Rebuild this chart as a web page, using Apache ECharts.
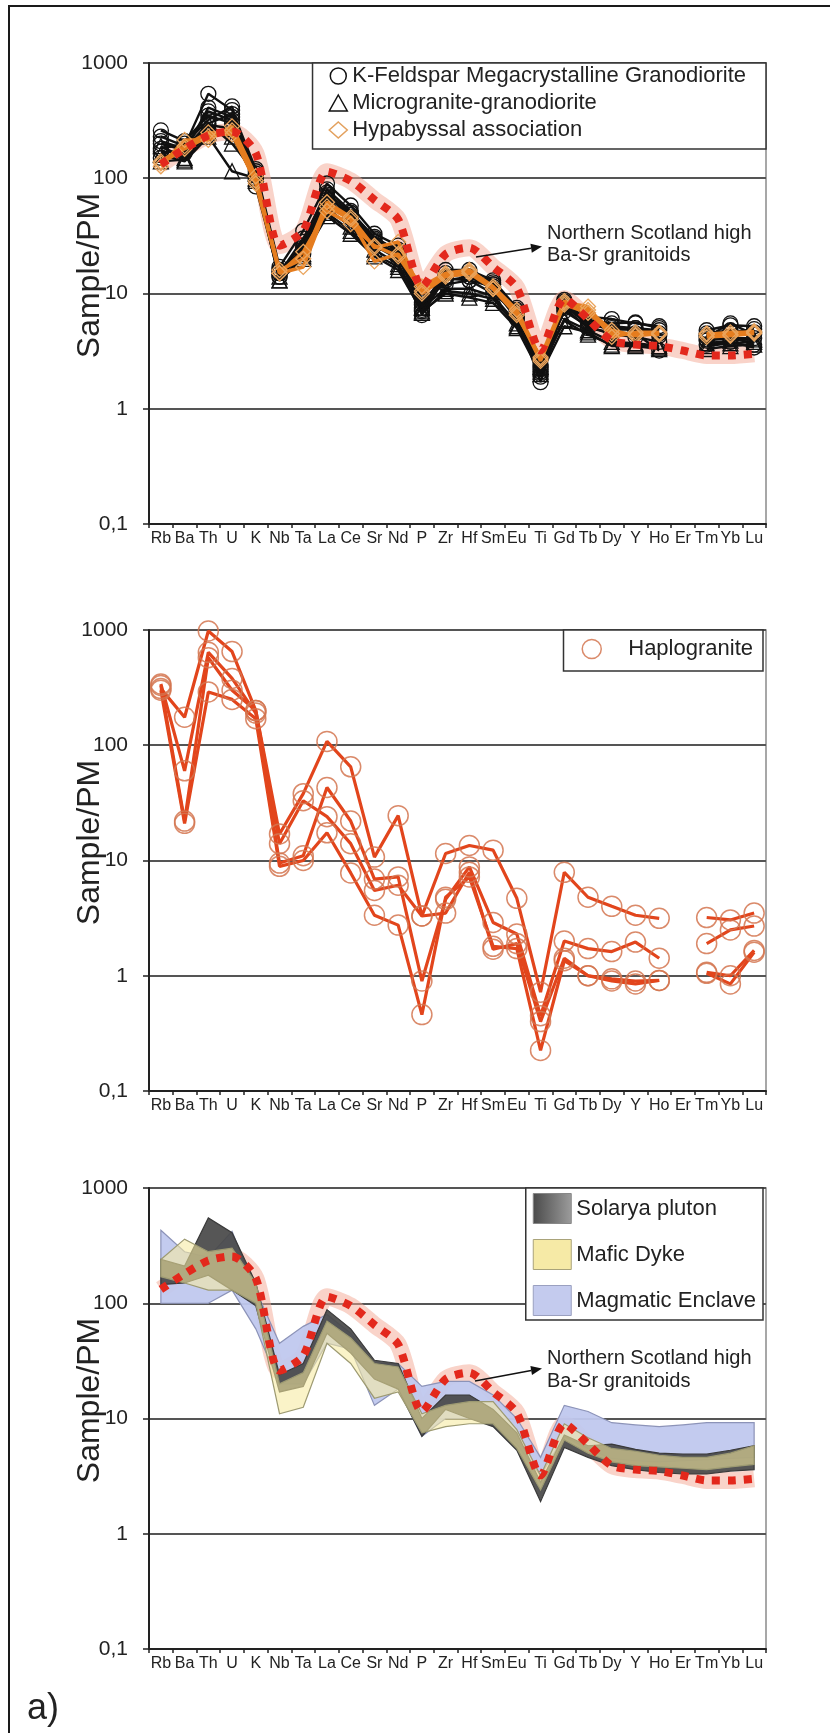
<!DOCTYPE html>
<html>
<head>
<meta charset="utf-8">
<script src="https://cdn.jsdelivr.net/npm/echarts@6/dist/echarts.min.js"></script>
<style>
  html, body { margin: 0; padding: 0; background: #fff; }
  #chart { width: 830px; height: 1733px; }
</style>
</head>
<body>
<div id="chart"></div>
<script>
// Primitive-mantle normalised multi-element patterns (Sample/PM)
const elements = ['Rb','Ba','Th','U','K','Nb','Ta','La','Ce','Sr','Nd','P','Zr','Hf','Sm','Eu','Ti','Gd','Tb','Dy','Y','Ho','Er','Tm','Yb','Lu'];
const yTickLabels = ['0,1', '1', '10', '100', '1000'];   // exponents -1 .. 3

// Reference pattern: Northern Scotland high Ba-Sr granitoids
const northernScotland = [132,180,235,255,165,26,35,114,95,65,44,11.5,22,25,17,11.2,3.2,9.0,6.0,3.9,3.6,3.5,3.2,2.9,2.9,3.0];

// Panel 1
const kFeldsparSamples = [
  [230,190,540,390,120,17,35,90,58,33,26,7.5,16,16,13,7.5,2.0,8.8,6.3,6.0,5.5,5.2,null,4.8,5.3,5.2],
  [200,175,380,320,105,15,28,80,52,30,24,6.5,14,15,12,6.5,1.7,8.0,5.5,5.2,5.0,4.8,null,4.3,4.6,4.9],
  [180,200,320,420,85,14,25,70,48,28,22,8.0,13,14,11,6.0,2.2,7.5,5.0,4.6,4.5,3.2,null,4.0,4.2,3.6],
  [150,165,290,270,95,16,22,65,45,26,20,9.0,12,13,10,6.8,2.4,7.0,5.2,4.4,4.2,3.8,null,3.6,3.8,3.4],
  [260,210,350,300,110,15,30,75,50,31,23,7.0,15,14,12,7.0,1.9,8.5,5.8,5.5,5.6,5.0,null,4.2,5.5,4.4],
  [210,180,300,360,100,14,26,72,46,27,21,7.2,13.5,13,11.5,6.2,2.1,7.8,5.4,5.0,4.8,4.3,null,3.9,4.1,4.1],
  [170,170,410,340,115,16,24,68,50,29,22,8.4,14,15,12.5,7.2,2.3,8.2,5.6,4.8,5.0,4.5,null,4.5,4.8,4.6]
];
const microgranodioriteSamples = [
  [160,140,230,115,100,13,21,47,33,21,16,7.0,10,9.2,8.3,5.0,2.0,5.2,4.6,3.5,3.5,3.3,null,3.7,3.9,4.0],
  [190,150,300,200,110,14,22,55,38,24,18,7.5,11,11,9.5,5.5,2.1,6.0,4.8,3.8,3.7,3.5,null,3.5,3.7,3.8],
  [140,145,250,230,95,13,20,50,35,22,17,6.8,10.5,10,9.0,5.2,2.3,5.8,4.4,3.6,3.6,3.4,null,3.3,3.5,3.6]
];
const hypabyssalSamples = [
  [127,215,215,282,104,15,17,57,44,19,22,11.5,15,16,11.5,7.2,2.7,8.3,7.7,4.2,4.6,4.6,null,4.4,4.6,4.6],
  [140,190,250,240,95,16,20,62,46,25,28,10,14,15,11,6.8,2.6,8.0,6.8,4.5,4.4,4.4,null,4.2,4.3,4.5],
  [135,180,230,260,90,15,23,52,40,26,21,10.5,14.5,15.5,11,6.5,2.8,8.6,7.2,4.8,4.3,4.5,null,4.5,4.4,4.7]
];

// Panel 2
const haplograniteSamples = [
  [310,175,980,650,200,17,38,108,65,10.7,24.5,3.3,11.5,13.5,12.3,4.7,0.72,7.9,4.8,4.0,3.35,3.15,null,3.2,3.05,3.5],
  [340,60,640,380,190,9.5,11,43,22,6.9,7.2,0.9,4.6,8.8,2.9,2.3,0.45,2.0,1.72,1.62,1.96,1.42,null,1.9,2.5,2.7],
  [330,22,575,300,200,14,33,24,14,5.5,6.1,3.3,3.5,7.9,1.7,1.9,0.40,1.42,1.0,0.94,0.9,0.91,null,1.07,1.0,1.66],
  [300,21,290,250,170,8.9,10,17.4,7.8,3.35,2.75,0.46,4.8,7.2,1.8,1.72,0.225,1.35,1.0,0.9,0.85,0.91,null,1.05,0.85,1.6]
];

// Panel 3: compositional ranges (lower / upper envelopes)
const solaryaLow   = [145,150,175,130,95,17,19,55,37,22,18,7,12,10,8.5,5.3,1.9,5.6,4.6,3.9,3.6,3.4,3.3,3.3,3.5,3.6];
const solaryaHigh  = [240,210,550,410,150,24,30,88,60,32,30,10,16,16,12,7.5,2.8,7.2,5.8,6.0,5.4,5.0,4.9,4.9,5.3,5.8];
const dykeLow      = [170,150,130,130,100,11,12.5,45,30,15,17,7.5,8.5,9,9,5.5,2.4,6.5,5,4.2,3.9,3.8,3.7,3.6,3.8,4.0];
const dykeHigh     = [240,360,280,300,150,20,25,70,50,30,28,11,13,14,14,8,3.2,9,6.8,5.5,5.2,4.8,4.6,4.6,5.0,5.8];
const enclaveLow   = [100,100,100,130,60,20,20,45,40,13,18,7,10,10,9,6,3.2,7,5.5,4.5,4.3,4.2,4.3,4.4,4.5,4.6];
const enclaveHigh  = [430,280,250,420,130,45,63,80,55,30,30,19,21,21,16,10,4.6,13,11.5,9.2,8.8,8.5,8.8,9.2,9.2,9.2];

const FONT = "'Liberation Sans', Arial, Helvetica, sans-serif";
const TEXT = '#222';
const panelTops = [63, 630, 1188];
const PLOT_LEFT = 149, PLOT_W = 617, PLOT_H = 461;

const chart = echarts.init(document.getElementById('chart'), null, { renderer: 'canvas' });

const grids = panelTops.map(t => ({
  left: PLOT_LEFT, top: t, width: PLOT_W, height: PLOT_H,
  show: true, borderColor: '#8a8a8a', borderWidth: 1.5, backgroundColor: 'transparent'
}));

const xAxes = panelTops.map((t, i) => ({
  type: 'category', gridIndex: i, data: elements, boundaryGap: true,
  axisLine: { lineStyle: { color: TEXT, width: 2 } },
  axisTick: { show: true, interval: 0, length: 4, lineStyle: { color: TEXT, width: 1.5 } },
  axisLabel: { interval: 0, fontSize: 16, color: TEXT, fontFamily: FONT, margin: 7, hideOverlap: false },
  splitLine: { show: false }
}));

const yAxes = panelTops.map((t, i) => ({
  type: 'log', logBase: 10, gridIndex: i, min: 0.1, max: 1000, splitNumber: 4,
  axisLine: { show: true, lineStyle: { color: TEXT, width: 2 } },
  axisTick: { show: true, length: 6, lineStyle: { color: TEXT, width: 1.5 } },
  axisLabel: {
    fontSize: 21, color: TEXT, fontFamily: FONT, margin: 21,
    formatter: v => yTickLabels[Math.round(Math.log10(v)) + 1]
  },
  splitLine: { show: true, lineStyle: { color: '#555', width: 1.8 } },
  minorTick: { show: false }, minorSplitLine: { show: false }
}));

function sampleLine(name, data, axis, opts) {
  return Object.assign({
    type: 'line', name, data, xAxisIndex: axis, yAxisIndex: axis,
    connectNulls: false, silent: true, animation: false
  }, opts);
}

function referenceLines(axis) {
  return [
    sampleLine('Northern Scotland halo', northernScotland, axis, {
      symbol: 'none', smooth: 0.25, z: 1,
      lineStyle: { color: 'rgba(244,168,148,0.5)', width: 17 }
    }),
    sampleLine('Northern Scotland high Ba-Sr granitoids', northernScotland, axis, {
      symbol: 'none', smooth: 0.25, z: 6,
      lineStyle: { color: '#e3281c', width: 8, type: [8, 8], cap: 'butt' }
    })
  ];
}

function band(name, lo, hi, axis, fill, stroke, z) {
  return {
    type: 'custom', name, xAxisIndex: axis, yAxisIndex: axis, z, silent: true,
    itemStyle: { color: fill },
    data: elements.map((e, i) => [i, hi[i]]),
    renderItem: (params, api) => {
      if (params.dataIndex !== 0) return null;
      const upper = hi.map((v, i) => api.coord([i, v]));
      const lower = lo.map((v, i) => api.coord([i, v])).reverse();
      return {
        type: 'polygon',
        shape: { points: upper.concat(lower) },
        style: { fill, stroke, lineWidth: 1.2 }
      };
    }
  };
}

const series = [];

// Panel 1
series.push(referenceLines(0)[0]);
kFeldsparSamples.forEach(d => series.push(sampleLine('K-Feldspar Megacrystalline Granodiorite', d, 0, {
  symbol: 'circle', symbolSize: 15, z: 3,
  lineStyle: { color: '#111', width: 2.4 },
  itemStyle: { color: 'rgba(0,0,0,0)', borderColor: '#111', borderWidth: 1.3 }
})));
microgranodioriteSamples.forEach(d => series.push(sampleLine('Microgranite-granodiorite', d, 0, {
  symbol: 'triangle', symbolSize: 15, z: 3,
  lineStyle: { color: '#111', width: 2.4 },
  itemStyle: { color: 'rgba(0,0,0,0)', borderColor: '#111', borderWidth: 1.3 }
})));
hypabyssalSamples.forEach(d => series.push(sampleLine('Hypabyssal association', d, 0, {
  symbol: 'diamond', symbolSize: 15, z: 4,
  lineStyle: { color: '#e57d1f', width: 3.5 },
  itemStyle: { color: 'rgba(0,0,0,0)', borderColor: '#eaa45c', borderWidth: 1.3 }
})));
series.push(referenceLines(0)[1]);

// Panel 2
haplograniteSamples.forEach(d => series.push(sampleLine('Haplogranite', d, 1, {
  symbol: 'circle', symbolSize: 20, z: 3,
  lineStyle: { color: '#e2451c', width: 3.2 },
  itemStyle: { color: 'rgba(0,0,0,0)', borderColor: 'rgba(212,118,80,0.85)', borderWidth: 1.5 }
})));

// Panel 3
const solaryaFill = new echarts.graphic.LinearGradient(0, 0, 1, 0, [
  { offset: 0, color: '#4a4a4a' }, { offset: 1, color: '#9c9c9c' }
]);
series.push(band('Magmatic Enclave', enclaveLow, enclaveHigh, 2, 'rgba(192,200,238,0.95)', '#8c93b8', 2));
series.push(band('Solarya pluton', solaryaLow, solaryaHigh, 2, 'rgba(72,72,72,0.92)', '#3a3a3a', 3));
series.push(band('Mafic Dyke', dykeLow, dykeHigh, 2, 'rgba(246,234,160,0.58)', '#9d9a72', 4));
referenceLines(2).forEach(s => series.push(s));

// Annotation arrow (line + filled head)
function arrow(x1, y1, x2, y2) {
  const dx = x2 - x1, dy = y2 - y1, len = Math.hypot(dx, dy);
  const ux = dx / len, uy = dy / len, hl = 11, hw = 4.5;
  const bx = x2 - ux * hl, by = y2 - uy * hl;
  return [
    { type: 'line', z: 20, shape: { x1, y1, x2: bx, y2: by }, style: { stroke: '#111', lineWidth: 1.5 } },
    { type: 'polygon', z: 20, shape: { points: [[x2, y2], [bx - uy * hw, by + ux * hw], [bx + uy * hw, by - ux * hw]] },
      style: { fill: '#111' } }
  ];
}

const graphic = [
  { type: 'polyline', z: 20, shape: { points: [[9, 1733], [9, 6], [830, 6]] }, style: { stroke: '#1a1a1a', lineWidth: 2, fill: null } },
  { type: 'text', z: 20, x: 27, y: 1709, style: { text: 'a)', fontSize: 36, fontFamily: FONT, fill: TEXT, align: 'left', verticalAlign: 'middle' } },
  { type: 'text', z: 20, x: 547, y: 222, style: { text: 'Northern Scotland high\nBa-Sr granitoids', fontSize: 20, lineHeight: 22, fontFamily: FONT, fill: TEXT, align: 'left', verticalAlign: 'top' } },
  { type: 'text', z: 20, x: 547, y: 1347, style: { text: 'Northern Scotland high\nBa-Sr granitoids', fontSize: 20, lineHeight: 23, fontFamily: FONT, fill: TEXT, align: 'left', verticalAlign: 'top' } }
].concat(arrow(476, 257, 542, 246.5), arrow(475, 1381, 542, 1368.5));

panelTops.forEach(t => graphic.push({
  type: 'text', z: 20, x: 90, y: t + PLOT_H / 2 - 18, rotation: Math.PI / 2,
  style: { text: 'Sample/PM', fontSize: 32, fontFamily: FONT, fill: TEXT, align: 'center', verticalAlign: 'middle' }
}));

const legendBase = {
  orient: 'vertical', selectedMode: false, backgroundColor: '#fff',
  borderColor: '#333', borderWidth: 1.5, borderRadius: 0
};

const legends = [
  Object.assign({}, legendBase, {
    right: 64, top: 63, padding: [2, 20, 8, 16], itemGap: 5, itemWidth: 18, itemHeight: 16,
    textStyle: { fontSize: 22, lineHeight: 22, color: TEXT, fontFamily: FONT },
    data: [
      { name: 'K-Feldspar Megacrystalline Granodiorite', icon: 'circle', itemStyle: { color: 'rgba(0,0,0,0)', borderColor: '#111', borderWidth: 1.5 } },
      { name: 'Microgranite-granodiorite', icon: 'triangle', itemStyle: { color: 'rgba(0,0,0,0)', borderColor: '#111', borderWidth: 1.5 } },
      { name: 'Hypabyssal association', icon: 'diamond', itemStyle: { color: 'rgba(0,0,0,0)', borderColor: '#e3a15e', borderWidth: 1.5 } }
    ]
  }),
  Object.assign({}, legendBase, {
    right: 67, top: 630, padding: [8, 10, 11, 18], itemWidth: 19, itemHeight: 19,
    textStyle: { fontSize: 22, lineHeight: 22, color: TEXT, fontFamily: FONT, padding: [0, 0, 0, 22] },
    data: [
      { name: 'Haplogranite', icon: 'circle', itemStyle: { color: 'rgba(0,0,0,0)', borderColor: 'rgba(212,118,80,0.85)', borderWidth: 1.5 } }
    ]
  }),
  Object.assign({}, legendBase, {
    right: 67, top: 1188, padding: [5, 7, 4, 7], itemGap: 15, itemWidth: 38, itemHeight: 30,
    textStyle: { fontSize: 22, lineHeight: 22, color: TEXT, fontFamily: FONT },
    data: [
      { name: 'Solarya pluton', icon: 'rect', itemStyle: { color: solaryaFill, borderColor: '#888', borderWidth: 1 } },
      { name: 'Mafic Dyke', icon: 'rect', itemStyle: { color: '#f6eaa6', borderColor: '#a9a37a', borderWidth: 1 } },
      { name: 'Magmatic Enclave', icon: 'rect', itemStyle: { color: '#c4cbee', borderColor: '#9aa0c0', borderWidth: 1 } }
    ]
  })
];

chart.setOption({
  animation: false,
  backgroundColor: '#fff',
  textStyle: { fontFamily: FONT },
  grid: grids,
  xAxis: xAxes,
  yAxis: yAxes,
  legend: legends,
  series,
  graphic
});
</script>
</body>
</html>
